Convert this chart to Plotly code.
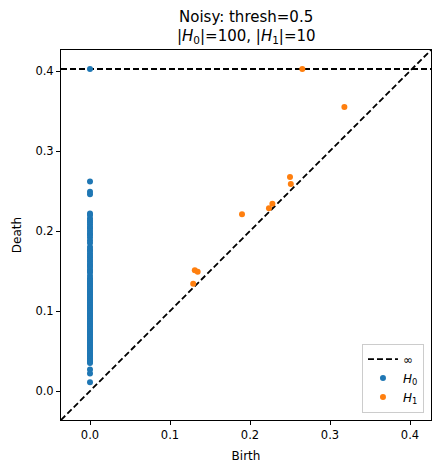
import plotly.graph_objects as go

# ---- data ----
INF_LEVEL = 0.4025  # position where infinite deaths are drawn

h0_births = [0.0] * 99
h0_deaths = [
    0.262, 0.249, 0.246,
    0.222, 0.220, 0.216, 0.213, 0.211, 0.208, 0.205, 0.203, 0.200,
    0.197, 0.195, 0.192, 0.188, 0.185, 0.180, 0.177, 0.175, 0.172,
    0.169, 0.167, 0.164, 0.162, 0.159, 0.157, 0.155, 0.152, 0.150, 0.148,
    0.144, 0.141, 0.139, 0.137, 0.135, 0.133, 0.131, 0.129, 0.127,
    0.125, 0.123, 0.121, 0.119, 0.117, 0.115, 0.113, 0.111, 0.109, 0.107,
    0.105, 0.103, 0.101, 0.099, 0.097, 0.095, 0.093, 0.091, 0.089, 0.087,
    0.085, 0.083, 0.081, 0.079, 0.077, 0.075, 0.073, 0.071, 0.069, 0.067,
    0.065, 0.063, 0.061, 0.059, 0.057, 0.055, 0.053, 0.051, 0.049, 0.047,
    0.045, 0.043, 0.041, 0.039, 0.037, 0.035,
    0.027, 0.022, 0.011,
]
h0_inf_births = [0.0]

h1_births = [0.318, 0.250, 0.251, 0.228, 0.2237, 0.190, 0.131, 0.1346, 0.129]
h1_deaths = [0.355, 0.2675, 0.2588, 0.234, 0.2284, 0.221, 0.151, 0.149, 0.134]
h1_inf_births = [0.2654]

axis_lo, axis_hi = -0.03625, 0.42625
tick_vals = [0.0, 0.1, 0.2, 0.3, 0.4]
tick_text = ["0.0", "0.1", "0.2", "0.3", "0.4"]

title_line1 = "Noisy: thresh=0.5"
title_line2 = "|<i>H</i><sub>0</sub>|=100, |<i>H</i><sub>1</sub>|=10"

C0 = "#1f77b4"
C1 = "#ff7f0e"
FONT = "DejaVu Sans"

fig = go.Figure()

# diagonal
fig.add_trace(go.Scatter(
    x=[axis_lo, axis_hi], y=[axis_lo, axis_hi], mode="lines",
    line=dict(color="black", width=1.8, dash="6px,3px"),
    showlegend=False, hoverinfo="skip"))

# infinity line
fig.add_trace(go.Scatter(
    x=[axis_lo, axis_hi], y=[INF_LEVEL, INF_LEVEL], mode="lines",
    line=dict(color="black", width=1.8, dash="6px,3px"),
    name="∞"))

fig.add_trace(go.Scatter(
    x=h0_births + h0_inf_births,
    y=h0_deaths + [INF_LEVEL] * len(h0_inf_births),
    mode="markers", marker=dict(color=C0, size=6, line=dict(width=0)),
    name="<i>H</i><sub>0</sub>"))

fig.add_trace(go.Scatter(
    x=h1_births + h1_inf_births,
    y=h1_deaths + [INF_LEVEL] * len(h1_inf_births),
    mode="markers", marker=dict(color=C1, size=6, line=dict(width=0)),
    name="<i>H</i><sub>1</sub>"))

axis_common = dict(
    range=[axis_lo, axis_hi], showgrid=False, zeroline=False,
    showline=True, linecolor="black", linewidth=1, mirror=True,
    ticks="outside", ticklen=4, tickwidth=1, tickcolor="black",
    tickvals=tick_vals, ticktext=tick_text,
    tickfont=dict(family=FONT, size=11.5, color="black"),
)

fig.update_layout(
    width=441, height=473,
    margin=dict(l=61, r=10, t=50, b=53),
    paper_bgcolor="white", plot_bgcolor="white",
    font=dict(family=FONT, color="black"),
    xaxis=dict(axis_common, title=dict(text="Birth", font=dict(family=FONT, size=12), standoff=10)),
    yaxis=dict(axis_common, title=dict(text="Death", font=dict(family=FONT, size=12), standoff=11)),
    legend=dict(
        x=0.981, y=0.02, xanchor="right", yanchor="bottom",
        bgcolor="rgba(255,255,255,0.8)", bordercolor="#cccccc", borderwidth=1,
        font=dict(family=FONT, size=12, color="black"),
        itemwidth=30, tracegroupgap=0),
    showlegend=True,
    annotations=[
        dict(text=title_line1, x=0.5, xref="paper", y=17, yref="paper",
             showarrow=False, font=dict(family=FONT, size=15, color="black")),
        dict(text=title_line2, x=0.5, xref="paper", y=37, yref="paper",
             showarrow=False, font=dict(family=FONT, size=15, color="black")),
    ],
)

# convert the title pixel rows (from top of the figure) into paper coordinates
plot_h = 473 - 50 - 53
for ann in fig.layout.annotations:
    ann.y = 1 + (50 - ann.y) / plot_h
    ann.yanchor = "middle"

fig.write_html("out.html")
